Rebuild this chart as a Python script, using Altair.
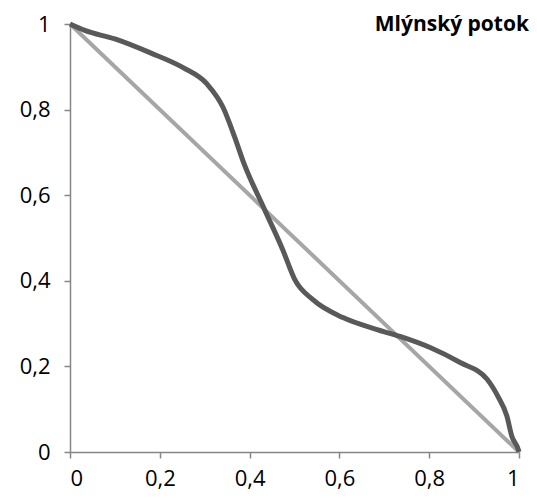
import altair as alt
import pandas as pd

curve_x = [0, 0.033, 0.1, 0.178, 0.252, 0.305, 0.341, 0.367, 0.385, 0.434, 0.474, 0.501,
           0.541, 0.608, 0.684, 0.735, 0.802, 0.869, 0.929, 0.953, 0.973, 0.984, 0.998, 1]
curve_y = [1, 0.985, 0.965, 0.933, 0.898, 0.860, 0.805, 0.735, 0.681, 0.565, 0.472, 0.402,
           0.356, 0.314, 0.286, 0.270, 0.244, 0.209, 0.170, 0.130, 0.084, 0.037, 0.007, 0]
diag_x = [0, 1]
diag_y = [1, 0]
ticks = [0, 0.2, 0.4, 0.6, 0.8, 1]

curve = pd.DataFrame({"x": curve_x, "y": curve_y})
diag = pd.DataFrame({"x": diag_x, "y": diag_y})

label_expr = "replace(toString(datum.value), '.', ',')"
xs = alt.Scale(domain=[0, 1], nice=False)
ys = alt.Scale(domain=[0, 1], nice=False)
common = dict(values=ticks, labelExpr=label_expr, title=None, grid=False,
              domainColor="#868686", tickColor="#868686", tickSize=6,
              labelFontSize=22, labelFont="Open Sans", labelColor="#000000",
              domainWidth=1.5, tickWidth=1.5)
xaxis = alt.Axis(labelPadding=10, **common)
yaxis = alt.Axis(labelPadding=14, **common)

dl = alt.Chart(diag).mark_line(color="#A6A6A6", strokeWidth=4).encode(
    x=alt.X("x:Q", scale=xs, axis=xaxis),
    y=alt.Y("y:Q", scale=ys, axis=yaxis),
)
cl = alt.Chart(curve).mark_line(color="#595959", strokeWidth=5, interpolate="monotone").encode(
    x=alt.X("x:Q", scale=xs, axis=xaxis),
    y=alt.Y("y:Q", scale=ys, axis=yaxis),
    order="x:Q",
)

chart = alt.layer(dl, cl).properties(
    width=449, height=428,
    autosize=alt.AutoSizeParams(type="none"),
    padding={"left": 62, "top": 16, "right": 10, "bottom": 42},
    title=alt.TitleParams("Mlýnský potok", anchor="end", frame="group", font="Open Sans",
                          fontSize=21, fontWeight="bold", color="#000000",
                          dx=10, dy=22, baseline="top", offset=0),
).configure_view(stroke=None)

chart.save("out.html", embed_options={"renderer": "svg", "actions": False})
